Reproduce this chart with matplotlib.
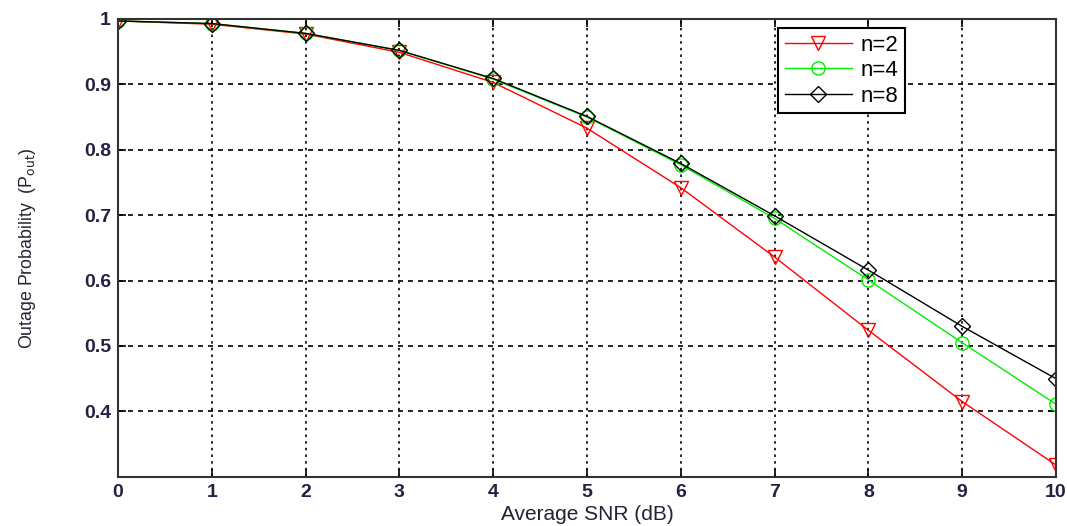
import matplotlib
matplotlib.use("Agg")
import matplotlib.pyplot as plt

plt.rcParams['font.family'] = ['Liberation Sans', 'DejaVu Sans']

snr_db = [0, 1, 2, 3, 4, 5, 6, 7, 8, 9, 10]
pout_n2 = [0.997, 0.992, 0.977, 0.949, 0.903, 0.833, 0.742, 0.636, 0.524, 0.415, 0.318]
pout_n4 = [0.997, 0.993, 0.978, 0.952, 0.908, 0.850, 0.777, 0.695, 0.601, 0.505, 0.411]
pout_n8 = [0.997, 0.993, 0.978, 0.952, 0.909, 0.851, 0.779, 0.699, 0.616, 0.530, 0.450]

yticks = [0.4, 0.5, 0.6, 0.7, 0.8, 0.9, 1.0]
ytick_labels = ['0.4', '0.5', '0.6', '0.7', '0.8', '0.9', '1']

fig = plt.figure(figsize=(10.67, 5.26), dpi=100)
ax = fig.add_axes([0.1106, 0.0937, 0.879, 0.8702])

ax.plot(snr_db, pout_n2, color='#ff0000', lw=1, marker='v', ms=10.5,
        mfc='none', mec='#ff0000', label='n=2')
ax.plot(snr_db, pout_n4, color='#00ee00', lw=1, marker='o', ms=9.5,
        mfc='none', mec='#00ee00', label='n=4')
ax.plot(snr_db, pout_n8, color='black', lw=1, marker='D', ms=8,
        mfc='none', mec='black', label='n=8')

ax.set_xlim(0, 10)
ax.set_ylim(0.3, 1.0)
ax.set_xticks(snr_db)
ax.set_yticks(yticks)
ax.set_yticklabels(ytick_labels)

# grid like MATLAB: dotted verticals, dashed horizontals
for x in snr_db[1:-1]:
    ax.axvline(x, color='black', lw=1.2, ls=(0, (1.5, 2.5)), zorder=0)
for y in yticks[:-1]:
    ax.axhline(y, color='black', lw=1.2, ls=(0, (3, 3)), zorder=0)

ax.tick_params(direction='in', top=True, right=True, length=6, width=1.2,
               labelsize=14, pad=5)
for lab in ax.get_xticklabels() + ax.get_yticklabels():
    lab.set_fontweight('bold')
    lab.set_color('#222244')
for s in ax.spines.values():
    s.set_linewidth(1.5)
    s.set_color('#333333')

ax.set_xlabel('Average SNR (dB)', fontsize=15, color='#222233')
ax.xaxis.set_label_coords(0.5, -0.062)
ax.set_ylabel('Outage Probability  (P$_{\\mathrm{out}}$)', fontsize=12.8, color='#222233')
ax.yaxis.set_label_coords(-0.097, 0.5)
ax.yaxis.label.set_va('center')

leg = ax.legend(loc='upper right', bbox_to_anchor=(0.839, 0.98), fontsize=16,
                frameon=True, fancybox=False, edgecolor='black', framealpha=1,
                handlelength=3.0, handletextpad=0.4, borderpad=0.3,
                labelspacing=0.2, borderaxespad=0)
leg.get_frame().set_linewidth(1.5)

fig.savefig('out.png', dpi=100)
